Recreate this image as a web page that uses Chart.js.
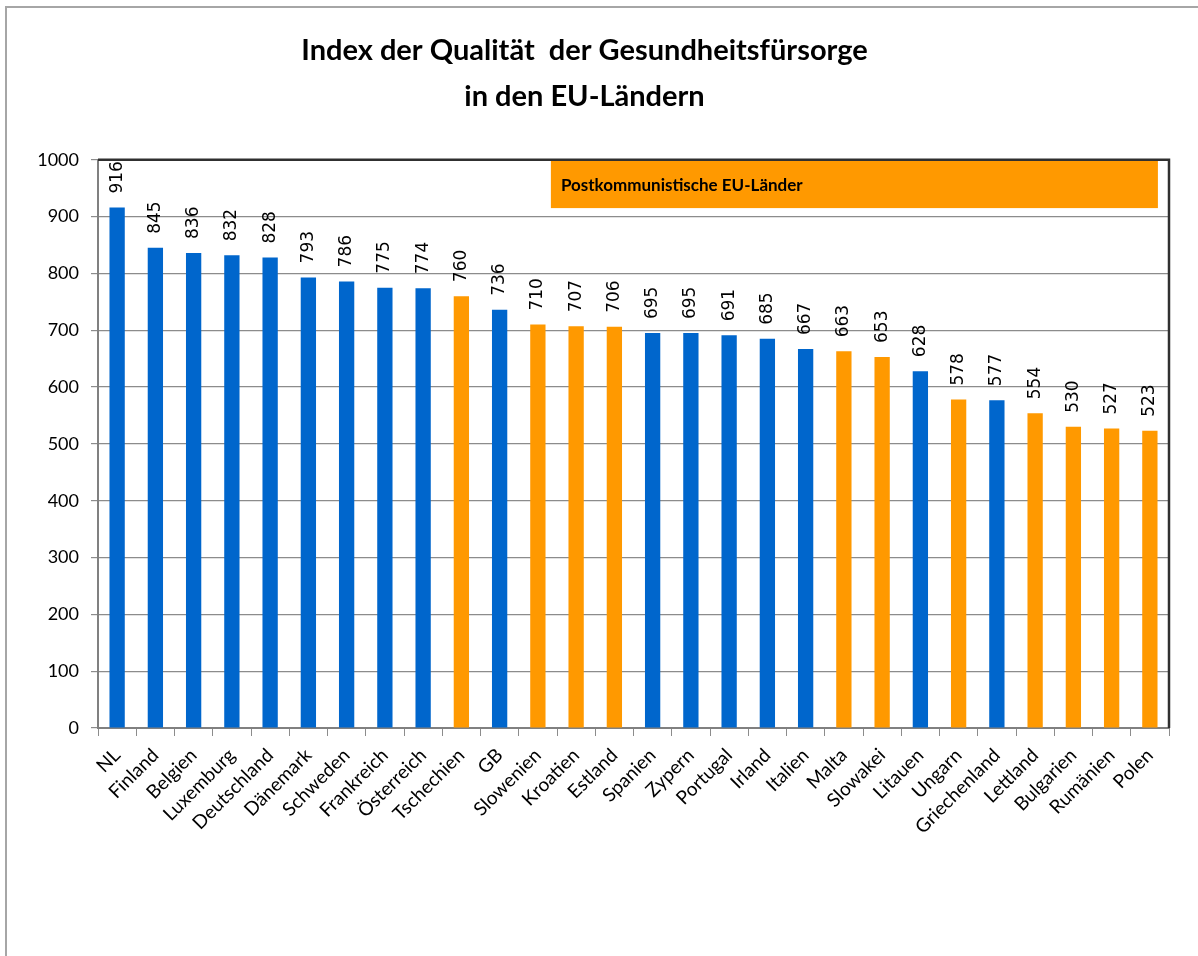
<!DOCTYPE html>
<html>
<head>
<meta charset="utf-8">
<script src="https://cdn.jsdelivr.net/npm/chart.js@4"></script>
<style>
    body { margin: 0; background: #fff; }
    #wrap { position: relative; width: 1198px; height: 956px; }
    #frame { position: absolute; left: 5px; top: 6px; right: 0; bottom: 0; border-left: 2px solid #a6a6a6; border-top: 2px solid #a6a6a6; }
</style>
</head>
<body>
<div id="wrap">
    <div id="frame"></div>
    <canvas id="qualityChart" width="1198" height="956"></canvas>
</div>
<script>
const titleLines = ['Index der Qualität  der Gesundheitsfürsorge', 'in den EU-Ländern'];
const categories = ['NL', 'Finland', 'Belgien', 'Luxemburg', 'Deutschland', 'Dänemark', 'Schweden',
    'Frankreich', 'Österreich', 'Tschechien', 'GB', 'Slowenien', 'Kroatien', 'Estland', 'Spanien',
    'Zypern', 'Portugal', 'Irland', 'Italien', 'Malta', 'Slowakei', 'Litauen', 'Ungarn',
    'Griechenland', 'Lettland', 'Bulgarien', 'Rumänien', 'Polen'];
const values = [916, 845, 836, 832, 828, 793, 786, 775, 774, 760, 736, 710, 707, 706, 695,
    695, 691, 685, 667, 663, 653, 628, 578, 577, 554, 530, 527, 523];
// 'p' = marked orange in the source chart, 'w' = blue
const groups = ['w', 'w', 'w', 'w', 'w', 'w', 'w', 'w', 'w', 'p', 'w', 'p', 'p', 'p', 'w',
    'w', 'w', 'w', 'w', 'p', 'p', 'w', 'p', 'w', 'p', 'p', 'p', 'p'];
const boxLabel = 'Postkommunistische EU-Länder';

const BLUE = '#0066cc';
const ORANGE = '#ff9900';

const valueLabels = {
    id: 'valueLabels',
    afterDatasetsDraw(chart) {
        const ctx = chart.ctx;
        const meta = chart.getDatasetMeta(0);
        ctx.save();
        ctx.fillStyle = '#000';
        ctx.font = '17px "DejaVu Sans"';
        ctx.textAlign = 'left';
        ctx.textBaseline = 'middle';
        meta.data.forEach((bar, i) => {
            ctx.save();
            ctx.translate(bar.x, bar.y - 14);
            ctx.rotate(-Math.PI / 2);
            ctx.fillText(values[i], 0, 0);
            ctx.restore();
        });
        ctx.restore();
    }
};

const plotFrame = {
    id: 'plotFrame',
    beforeDatasetsDraw(chart) {
        const ctx = chart.ctx;
        const x = chart.scales.x;
        const y = chart.scales.y;
        // orange group box in the top right of the plot
        const left = x.getPixelForValue(11.34);
        const right = x.getPixelForValue(27.21);
        const top = y.getPixelForValue(998);
        const bottom = y.getPixelForValue(915);
        ctx.save();
        ctx.fillStyle = ORANGE;
        ctx.fillRect(left, top, right - left, bottom - top);
        ctx.fillStyle = '#000';
        ctx.font = 'bold 17px Lato';
        ctx.textAlign = 'left';
        ctx.textBaseline = 'middle';
        ctx.fillText(boxLabel, left + 10, (top + bottom) / 2 + 1);
        ctx.restore();
    },
    afterDraw(chart) {
        const ctx = chart.ctx;
        const a = chart.chartArea;
        ctx.save();
        ctx.strokeStyle = '#303030';
        ctx.lineWidth = 2.5;
        ctx.beginPath();
        ctx.moveTo(a.left, a.top);
        ctx.lineTo(a.right, a.top);
        ctx.lineTo(a.right, a.bottom);
        ctx.stroke();
        ctx.restore();
    }
};

const chartCtx = document.getElementById('qualityChart');
new Chart(chartCtx, {
    type: 'bar',
    data: {
        labels: categories,
        datasets: [{
            label: 'Index',
            data: values,
            backgroundColor: groups.map(g => g === 'p' ? ORANGE : BLUE),
            barPercentage: 0.4,
            categoryPercentage: 1.0
        }]
    },
    options: {
        responsive: false,
        animation: false,
        layout: {
            padding: { left: 0, right: 29, top: 0, bottom: 0 }
        },
        plugins: {
            legend: { display: false },
            tooltip: { enabled: false },
            title: {
                display: true,
                text: titleLines,
                color: '#000',
                font: { family: 'Lato', size: 29, weight: 'bold', lineHeight: 1.6 },
                padding: { top: 27, bottom: 40 }
            }
        },
        scales: {
            x: {
                grid: {
                    drawOnChartArea: false,
                    drawTicks: true,
                    tickLength: 8,
                    color: '#8c8c8c',
                    offset: true
                },
                border: { color: '#808080', width: 2 },
                ticks: {
                    color: '#000',
                    font: { family: 'Lato', size: 19 },
                    maxRotation: 45,
                    minRotation: 45,
                    autoSkip: false,
                    padding: 8
                },
                afterFit(scale) { scale.height = 228; }
            },
            y: {
                min: 0,
                max: 1000,
                ticks: {
                    stepSize: 100,
                    color: '#000',
                    font: { family: 'Lato', size: 18 },
                    padding: 12,
                    callback: v => String(v)
                },
                grid: {
                    color: '#8c8c8c',
                    lineWidth: 1.2,
                    tickLength: 7
                },
                border: { color: '#808080', width: 2 },
                afterFit(scale) { scale.width = 98; }
            }
        }
    },
    plugins: [plotFrame, valueLabels]
});
</script>
</body>
</html>
